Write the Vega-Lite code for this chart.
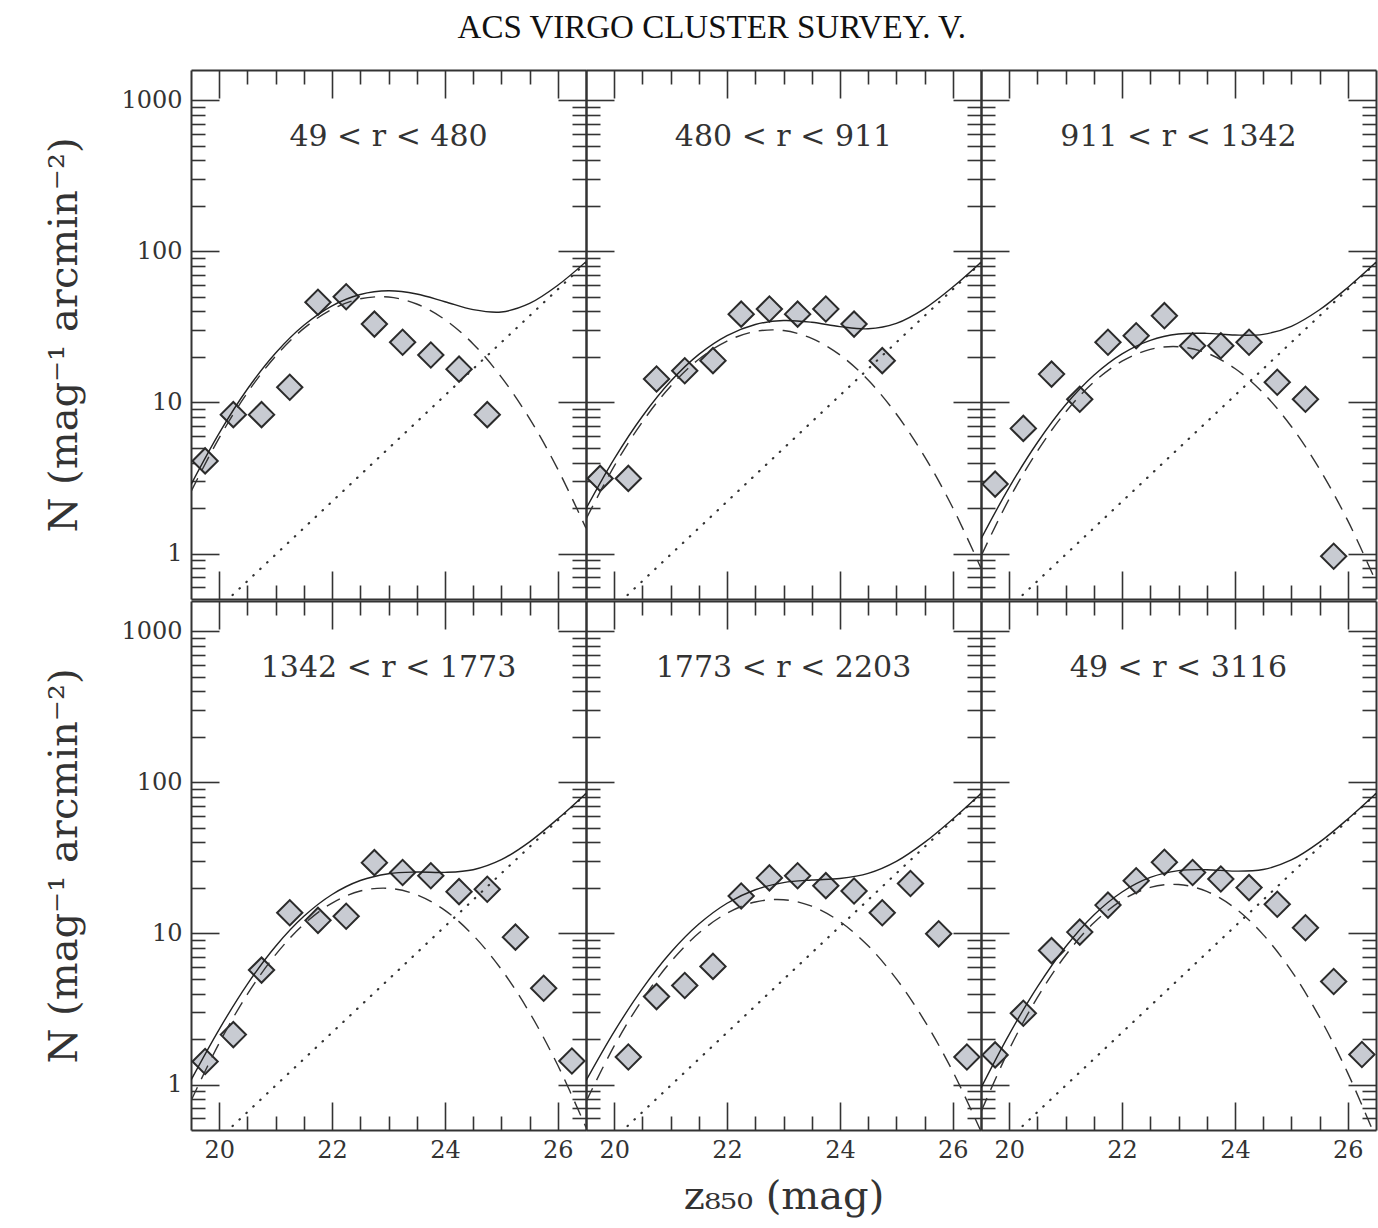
{
  "$schema": "https://vega.github.io/schema/vega-lite/v6.json",
  "background": "white",
  "padding": {"left": 44, "top": 12, "right": 2, "bottom": 4},
  "title": {"text": "ACS VIRGO CLUSTER SURVEY. V.", "font": "Liberation Serif", "fontSize": 33, "fontWeight": "normal", "color": "#111", "anchor": "middle", "frame": "bounds", "offset": 24},
  "datasets": {
    "bg": [{"m": 19.5, "n": 0.293}, {"m": 26.5, "n": 83.9}],
    "pts": [
      {"p": 1, "m": 19.75, "n": 4.1}, {"p": 1, "m": 20.25, "n": 8.3}, {"p": 1, "m": 20.75, "n": 8.3}, {"p": 1, "m": 21.25, "n": 12.6}, {"p": 1, "m": 21.75, "n": 46}, {"p": 1, "m": 22.25, "n": 50}, {"p": 1, "m": 22.75, "n": 33}, {"p": 1, "m": 23.25, "n": 25}, {"p": 1, "m": 23.75, "n": 20.6}, {"p": 1, "m": 24.25, "n": 16.6}, {"p": 1, "m": 24.75, "n": 8.3},
      {"p": 2, "m": 19.75, "n": 3.14}, {"p": 2, "m": 20.25, "n": 3.14}, {"p": 2, "m": 20.75, "n": 14.3}, {"p": 2, "m": 21.25, "n": 16.2}, {"p": 2, "m": 21.75, "n": 18.9}, {"p": 2, "m": 22.25, "n": 38.4}, {"p": 2, "m": 22.75, "n": 41.5}, {"p": 2, "m": 23.25, "n": 38.4}, {"p": 2, "m": 23.75, "n": 41.5}, {"p": 2, "m": 24.25, "n": 33.0}, {"p": 2, "m": 24.75, "n": 18.9},
      {"p": 3, "m": 19.75, "n": 2.88}, {"p": 3, "m": 20.25, "n": 6.73}, {"p": 3, "m": 20.75, "n": 15.4}, {"p": 3, "m": 21.25, "n": 10.5}, {"p": 3, "m": 21.75, "n": 25.0}, {"p": 3, "m": 22.25, "n": 27.6}, {"p": 3, "m": 22.75, "n": 37.5}, {"p": 3, "m": 23.25, "n": 23.7}, {"p": 3, "m": 23.75, "n": 23.7}, {"p": 3, "m": 24.25, "n": 25.0}, {"p": 3, "m": 24.75, "n": 13.6}, {"p": 3, "m": 25.25, "n": 10.5}, {"p": 3, "m": 25.75, "n": 0.96},
      {"p": 4, "m": 19.75, "n": 1.42}, {"p": 4, "m": 20.25, "n": 2.14}, {"p": 4, "m": 20.75, "n": 5.72}, {"p": 4, "m": 21.25, "n": 13.7}, {"p": 4, "m": 21.75, "n": 12.2}, {"p": 4, "m": 22.25, "n": 13.0}, {"p": 4, "m": 22.75, "n": 29.4}, {"p": 4, "m": 23.25, "n": 25.3}, {"p": 4, "m": 23.75, "n": 24.1}, {"p": 4, "m": 24.25, "n": 18.9}, {"p": 4, "m": 24.75, "n": 19.6}, {"p": 4, "m": 25.25, "n": 9.45}, {"p": 4, "m": 25.75, "n": 4.34}, {"p": 4, "m": 26.25, "n": 1.43},
      {"p": 5, "m": 20.25, "n": 1.52}, {"p": 5, "m": 20.75, "n": 3.82}, {"p": 5, "m": 21.25, "n": 4.52}, {"p": 5, "m": 21.75, "n": 6.05}, {"p": 5, "m": 22.25, "n": 17.7}, {"p": 5, "m": 22.75, "n": 23.3}, {"p": 5, "m": 23.25, "n": 24.1}, {"p": 5, "m": 23.75, "n": 20.7}, {"p": 5, "m": 24.25, "n": 19.1}, {"p": 5, "m": 24.75, "n": 13.7}, {"p": 5, "m": 25.25, "n": 21.4}, {"p": 5, "m": 25.75, "n": 9.94}, {"p": 5, "m": 26.25, "n": 1.52},
      {"p": 6, "m": 19.75, "n": 1.57}, {"p": 6, "m": 20.25, "n": 2.96}, {"p": 6, "m": 20.75, "n": 7.7}, {"p": 6, "m": 21.25, "n": 10.2}, {"p": 6, "m": 21.75, "n": 15.4}, {"p": 6, "m": 22.25, "n": 22.3}, {"p": 6, "m": 22.75, "n": 29.6}, {"p": 6, "m": 23.25, "n": 25.3}, {"p": 6, "m": 23.75, "n": 22.9}, {"p": 6, "m": 24.25, "n": 20.1}, {"p": 6, "m": 24.75, "n": 15.6}, {"p": 6, "m": 25.25, "n": 10.9}, {"p": 6, "m": 25.75, "n": 4.81}, {"p": 6, "m": 26.25, "n": 1.58}
    ],
    "curves": [
      {"p": 1, "m": 19.5, "g": 2.57, "t": 2.86}, {"p": 1, "m": 20.0, "g": 5.83, "t": 6.27}, {"p": 1, "m": 20.5, "g": 11.61, "t": 12.27}, {"p": 1, "m": 21.0, "g": 20.25, "t": 21.24}, {"p": 1, "m": 21.5, "g": 30.9, "t": 32.4}, {"p": 1, "m": 22.0, "g": 41.4, "t": 43.6}, {"p": 1, "m": 22.5, "g": 48.5, "t": 51.8}, {"p": 1, "m": 23.0, "g": 49.8, "t": 54.8}, {"p": 1, "m": 23.5, "g": 44.8, "t": 52.2}, {"p": 1, "m": 24.0, "g": 35.3, "t": 46.4}, {"p": 1, "m": 24.5, "g": 24.4, "t": 41.1}, {"p": 1, "m": 25.0, "g": 14.7, "t": 39.7}, {"p": 1, "m": 25.5, "g": 7.81, "t": 45.2}, {"p": 1, "m": 26.0, "g": 3.62, "t": 59.6}, {"p": 1, "m": 26.5, "g": 1.47, "t": 85.4},
      {"p": 2, "m": 19.5, "g": 1.69, "t": 1.98}, {"p": 2, "m": 20.0, "g": 3.79, "t": 4.23}, {"p": 2, "m": 20.5, "g": 7.44, "t": 8.10}, {"p": 2, "m": 21.0, "g": 12.81, "t": 13.80}, {"p": 2, "m": 21.5, "g": 19.31, "t": 20.79}, {"p": 2, "m": 22.0, "g": 25.49, "t": 27.70}, {"p": 2, "m": 22.5, "g": 29.49, "t": 32.80}, {"p": 2, "m": 23.0, "g": 29.89, "t": 34.85}, {"p": 2, "m": 23.5, "g": 26.52, "t": 33.95}, {"p": 2, "m": 24.0, "g": 20.63, "t": 31.76}, {"p": 2, "m": 24.5, "g": 14.05, "t": 30.72}, {"p": 2, "m": 25.0, "g": 8.38, "t": 33.35}, {"p": 2, "m": 25.5, "g": 4.38, "t": 41.78}, {"p": 2, "m": 26.0, "g": 2.01, "t": 58.0}, {"p": 2, "m": 26.5, "g": 0.80, "t": 84.7},
      {"p": 3, "m": 19.5, "g": 0.96, "t": 1.25}, {"p": 3, "m": 20.0, "g": 2.30, "t": 2.74}, {"p": 3, "m": 20.5, "g": 4.77, "t": 5.43}, {"p": 3, "m": 21.0, "g": 8.65, "t": 9.64}, {"p": 3, "m": 21.5, "g": 13.64, "t": 15.12}, {"p": 3, "m": 22.0, "g": 18.74, "t": 20.95}, {"p": 3, "m": 22.5, "g": 22.43, "t": 25.74}, {"p": 3, "m": 23.0, "g": 23.38, "t": 28.34}, {"p": 3, "m": 23.5, "g": 21.22, "t": 28.65}, {"p": 3, "m": 24.0, "g": 16.78, "t": 27.91}, {"p": 3, "m": 24.5, "g": 11.56, "t": 28.23}, {"p": 3, "m": 25.0, "g": 6.93, "t": 31.90}, {"p": 3, "m": 25.5, "g": 3.62, "t": 41.02}, {"p": 3, "m": 26.0, "g": 1.65, "t": 57.65}, {"p": 3, "m": 26.5, "g": 0.65, "t": 84.55},
      {"p": 4, "m": 19.5, "g": 0.78, "t": 1.07}, {"p": 4, "m": 20.0, "g": 1.88, "t": 2.32}, {"p": 4, "m": 20.5, "g": 3.96, "t": 4.62}, {"p": 4, "m": 21.0, "g": 7.24, "t": 8.23}, {"p": 4, "m": 21.5, "g": 11.50, "t": 12.98}, {"p": 4, "m": 22.0, "g": 15.89, "t": 18.10}, {"p": 4, "m": 22.5, "g": 19.08, "t": 22.39}, {"p": 4, "m": 23.0, "g": 19.89, "t": 24.85}, {"p": 4, "m": 23.5, "g": 18.04, "t": 25.47}, {"p": 4, "m": 24.0, "g": 14.21, "t": 25.34}, {"p": 4, "m": 24.5, "g": 9.72, "t": 26.39}, {"p": 4, "m": 25.0, "g": 5.78, "t": 30.75}, {"p": 4, "m": 25.5, "g": 2.99, "t": 40.39}, {"p": 4, "m": 26.0, "g": 1.34, "t": 57.34}, {"p": 4, "m": 26.5, "g": 0.52, "t": 84.42},
      {"p": 5, "m": 19.5, "g": 0.77, "t": 1.06}, {"p": 5, "m": 20.0, "g": 1.80, "t": 2.24}, {"p": 5, "m": 20.5, "g": 3.65, "t": 4.31}, {"p": 5, "m": 21.0, "g": 6.48, "t": 7.47}, {"p": 5, "m": 21.5, "g": 10.05, "t": 11.53}, {"p": 5, "m": 22.0, "g": 13.63, "t": 15.84}, {"p": 5, "m": 22.5, "g": 16.15, "t": 19.46}, {"p": 5, "m": 23.0, "g": 16.72, "t": 21.68}, {"p": 5, "m": 23.5, "g": 15.14, "t": 22.57}, {"p": 5, "m": 24.0, "g": 11.97, "t": 23.10}, {"p": 5, "m": 24.5, "g": 8.28, "t": 24.95}, {"p": 5, "m": 25.0, "g": 5.00, "t": 29.97}, {"p": 5, "m": 25.5, "g": 2.64, "t": 40.04}, {"p": 5, "m": 26.0, "g": 1.22, "t": 57.22}, {"p": 5, "m": 26.5, "g": 0.49, "t": 84.39},
      {"p": 6, "m": 19.5, "g": 0.66, "t": 0.95}, {"p": 6, "m": 20.0, "g": 1.71, "t": 2.15}, {"p": 6, "m": 20.5, "g": 3.77, "t": 4.43}, {"p": 6, "m": 21.0, "g": 7.17, "t": 8.16}, {"p": 6, "m": 21.5, "g": 11.76, "t": 13.24}, {"p": 6, "m": 22.0, "g": 16.59, "t": 18.80}, {"p": 6, "m": 22.5, "g": 20.15, "t": 23.46}, {"p": 6, "m": 23.0, "g": 21.07, "t": 26.03}, {"p": 6, "m": 23.5, "g": 18.98, "t": 26.41}, {"p": 6, "m": 24.0, "g": 14.72, "t": 25.85}, {"p": 6, "m": 24.5, "g": 9.82, "t": 26.49}, {"p": 6, "m": 25.0, "g": 5.65, "t": 30.62}, {"p": 6, "m": 25.5, "g": 2.79, "t": 40.19}, {"p": 6, "m": 26.0, "g": 1.19, "t": 57.19}, {"p": 6, "m": 26.5, "g": 0.44, "t": 84.34}
    ]
  },
  "vconcat": [
    {
      "spacing": 0, "bounds": "flush",
      "hconcat": [
        {
          "width": 395, "height": 529,
          "resolve": {"axis": {"x": "independent", "y": "independent"}},
          "layer": [
            {"data": {"name": "pts"}, "transform": [{"filter": "datum.p === 1"}],
             "mark": {"type": "point", "shape": "diamond", "size": 640, "filled": true, "fill": "#c8cbd2", "stroke": "#2b2b2b", "strokeWidth": 2, "opacity": 1},
             "encoding": {
               "x": {"field": "m", "type": "quantitative", "scale": {"domain": [19.5, 26.5], "nice": false, "zero": false},
                     "axis": {"orient": "bottom", "values": [20,20.5,21,21.5,22,22.5,23,23.5,24,24.5,25,25.5,26], "labels": false, "title": null, "encoding": {"ticks": {"y2": {"condition": {"test": "datum.value % 2 === 0", "value": -28}, "value": -14}}}}},
               "y": {"field": "n", "type": "quantitative", "scale": {"type": "log", "domain": [0.5, 1585], "nice": false},
                     "axis": {"orient": "left", "values": [0.6,0.7,0.8,0.9,1,2,3,4,5,6,7,8,9,10,20,30,40,50,60,70,80,90,100,200,300,400,500,600,700,800,900,1000], "labels": true, "labelExpr": "indexof([1,10,100,1000], datum.value) >= 0 ? '' + datum.value : ''", "title": "N (mag⁻¹ arcmin⁻²)", "encoding": {"ticks": {"x2": {"condition": {"test": "indexof([1,10,100,1000], datum.value) >= 0", "value": 28}, "value": 14}}}}}
             }},
            {"data": {"name": "bg"},
             "mark": {"type": "line", "clip": true, "color": "#333", "strokeWidth": 2.2, "strokeDash": [0.5, 9], "strokeCap": "round"},
             "encoding": {
               "x": {"field": "m", "type": "quantitative", "scale": {"domain": [19.5, 26.5], "nice": false, "zero": false}, "axis": null},
               "y": {"field": "n", "type": "quantitative", "scale": {"type": "log", "domain": [0.5, 1585], "nice": false}, "axis": null}
             }},
            {"data": {"name": "curves"}, "transform": [{"filter": "datum.p === 1"}],
             "mark": {"type": "line", "clip": true, "interpolate": "catmull-rom", "color": "#333", "strokeWidth": 1.4, "strokeDash": [15, 9]},
             "encoding": {
               "x": {"field": "m", "type": "quantitative", "scale": {"domain": [19.5, 26.5], "nice": false, "zero": false}, "axis": null},
               "y": {"field": "g", "type": "quantitative", "scale": {"type": "log", "domain": [0.5, 1585], "nice": false}, "axis": null}
             }},
            {"data": {"name": "curves"}, "transform": [{"filter": "datum.p === 1"}],
             "mark": {"type": "line", "clip": true, "interpolate": "catmull-rom", "color": "#222", "strokeWidth": 1.4},
             "encoding": {
               "x": {"field": "m", "type": "quantitative", "scale": {"domain": [19.5, 26.5], "nice": false, "zero": false},
                     "axis": {"orient": "top", "values": [20,20.5,21,21.5,22,22.5,23,23.5,24,24.5,25,25.5,26], "labels": false, "title": null, "encoding": {"ticks": {"y2": {"condition": {"test": "datum.value % 2 === 0", "value": 28}, "value": 14}}}}},
               "y": {"field": "t", "type": "quantitative", "scale": {"type": "log", "domain": [0.5, 1585], "nice": false},
                     "axis": {"orient": "right", "values": [0.6,0.7,0.8,0.9,1,2,3,4,5,6,7,8,9,10,20,30,40,50,60,70,80,90,100,200,300,400,500,600,700,800,900,1000], "labels": false, "title": null, "encoding": {"ticks": {"x2": {"condition": {"test": "indexof([1,10,100,1000], datum.value) >= 0", "value": -28}, "value": -14}}}}}
             }},
            {"data": {"values": [{"label": "49 < r < 480"}]},
             "mark": {"type": "text", "font": "DejaVu Serif", "fontSize": 30, "color": "#333"},
             "encoding": {
               "x": {"datum": 23, "type": "quantitative", "scale": {"domain": [19.5, 26.5], "nice": false, "zero": false}, "axis": null},
               "y": {"datum": 570, "type": "quantitative", "scale": {"type": "log", "domain": [0.5, 1585], "nice": false}, "axis": null},
               "text": {"field": "label"}
             }}
          ]
        },
        {
          "width": 395, "height": 529,
          "resolve": {"axis": {"x": "independent", "y": "independent"}},
          "layer": [
            {"data": {"name": "pts"}, "transform": [{"filter": "datum.p === 2"}],
             "mark": {"type": "point", "shape": "diamond", "size": 640, "filled": true, "fill": "#c8cbd2", "stroke": "#2b2b2b", "strokeWidth": 2, "opacity": 1},
             "encoding": {
               "x": {"field": "m", "type": "quantitative", "scale": {"domain": [19.5, 26.5], "nice": false, "zero": false},
                     "axis": {"orient": "bottom", "values": [20,20.5,21,21.5,22,22.5,23,23.5,24,24.5,25,25.5,26], "labels": false, "title": null, "encoding": {"ticks": {"y2": {"condition": {"test": "datum.value % 2 === 0", "value": -28}, "value": -14}}}}},
               "y": {"field": "n", "type": "quantitative", "scale": {"type": "log", "domain": [0.5, 1585], "nice": false},
                     "axis": {"orient": "left", "values": [0.6,0.7,0.8,0.9,1,2,3,4,5,6,7,8,9,10,20,30,40,50,60,70,80,90,100,200,300,400,500,600,700,800,900,1000], "labels": false, "title": null, "encoding": {"ticks": {"x2": {"condition": {"test": "indexof([1,10,100,1000], datum.value) >= 0", "value": 28}, "value": 14}}}}}
             }},
            {"data": {"name": "bg"},
             "mark": {"type": "line", "clip": true, "color": "#333", "strokeWidth": 2.2, "strokeDash": [0.5, 9], "strokeCap": "round"},
             "encoding": {
               "x": {"field": "m", "type": "quantitative", "scale": {"domain": [19.5, 26.5], "nice": false, "zero": false}, "axis": null},
               "y": {"field": "n", "type": "quantitative", "scale": {"type": "log", "domain": [0.5, 1585], "nice": false}, "axis": null}
             }},
            {"data": {"name": "curves"}, "transform": [{"filter": "datum.p === 2"}],
             "mark": {"type": "line", "clip": true, "interpolate": "catmull-rom", "color": "#333", "strokeWidth": 1.4, "strokeDash": [15, 9]},
             "encoding": {
               "x": {"field": "m", "type": "quantitative", "scale": {"domain": [19.5, 26.5], "nice": false, "zero": false}, "axis": null},
               "y": {"field": "g", "type": "quantitative", "scale": {"type": "log", "domain": [0.5, 1585], "nice": false}, "axis": null}
             }},
            {"data": {"name": "curves"}, "transform": [{"filter": "datum.p === 2"}],
             "mark": {"type": "line", "clip": true, "interpolate": "catmull-rom", "color": "#222", "strokeWidth": 1.4},
             "encoding": {
               "x": {"field": "m", "type": "quantitative", "scale": {"domain": [19.5, 26.5], "nice": false, "zero": false},
                     "axis": {"orient": "top", "values": [20,20.5,21,21.5,22,22.5,23,23.5,24,24.5,25,25.5,26], "labels": false, "title": null, "encoding": {"ticks": {"y2": {"condition": {"test": "datum.value % 2 === 0", "value": 28}, "value": 14}}}}},
               "y": {"field": "t", "type": "quantitative", "scale": {"type": "log", "domain": [0.5, 1585], "nice": false},
                     "axis": {"orient": "right", "values": [0.6,0.7,0.8,0.9,1,2,3,4,5,6,7,8,9,10,20,30,40,50,60,70,80,90,100,200,300,400,500,600,700,800,900,1000], "labels": false, "title": null, "encoding": {"ticks": {"x2": {"condition": {"test": "indexof([1,10,100,1000], datum.value) >= 0", "value": -28}, "value": -14}}}}}
             }},
            {"data": {"values": [{"label": "480 < r < 911"}]},
             "mark": {"type": "text", "font": "DejaVu Serif", "fontSize": 30, "color": "#333"},
             "encoding": {
               "x": {"datum": 23, "type": "quantitative", "scale": {"domain": [19.5, 26.5], "nice": false, "zero": false}, "axis": null},
               "y": {"datum": 570, "type": "quantitative", "scale": {"type": "log", "domain": [0.5, 1585], "nice": false}, "axis": null},
               "text": {"field": "label"}
             }}
          ]
        },
        {
          "width": 395, "height": 529,
          "resolve": {"axis": {"x": "independent", "y": "independent"}},
          "layer": [
            {"data": {"name": "pts"}, "transform": [{"filter": "datum.p === 3"}],
             "mark": {"type": "point", "shape": "diamond", "size": 640, "filled": true, "fill": "#c8cbd2", "stroke": "#2b2b2b", "strokeWidth": 2, "opacity": 1},
             "encoding": {
               "x": {"field": "m", "type": "quantitative", "scale": {"domain": [19.5, 26.5], "nice": false, "zero": false},
                     "axis": {"orient": "bottom", "values": [20,20.5,21,21.5,22,22.5,23,23.5,24,24.5,25,25.5,26], "labels": false, "title": null, "encoding": {"ticks": {"y2": {"condition": {"test": "datum.value % 2 === 0", "value": -28}, "value": -14}}}}},
               "y": {"field": "n", "type": "quantitative", "scale": {"type": "log", "domain": [0.5, 1585], "nice": false},
                     "axis": {"orient": "left", "values": [0.6,0.7,0.8,0.9,1,2,3,4,5,6,7,8,9,10,20,30,40,50,60,70,80,90,100,200,300,400,500,600,700,800,900,1000], "labels": false, "title": null, "encoding": {"ticks": {"x2": {"condition": {"test": "indexof([1,10,100,1000], datum.value) >= 0", "value": 28}, "value": 14}}}}}
             }},
            {"data": {"name": "bg"},
             "mark": {"type": "line", "clip": true, "color": "#333", "strokeWidth": 2.2, "strokeDash": [0.5, 9], "strokeCap": "round"},
             "encoding": {
               "x": {"field": "m", "type": "quantitative", "scale": {"domain": [19.5, 26.5], "nice": false, "zero": false}, "axis": null},
               "y": {"field": "n", "type": "quantitative", "scale": {"type": "log", "domain": [0.5, 1585], "nice": false}, "axis": null}
             }},
            {"data": {"name": "curves"}, "transform": [{"filter": "datum.p === 3"}],
             "mark": {"type": "line", "clip": true, "interpolate": "catmull-rom", "color": "#333", "strokeWidth": 1.4, "strokeDash": [15, 9]},
             "encoding": {
               "x": {"field": "m", "type": "quantitative", "scale": {"domain": [19.5, 26.5], "nice": false, "zero": false}, "axis": null},
               "y": {"field": "g", "type": "quantitative", "scale": {"type": "log", "domain": [0.5, 1585], "nice": false}, "axis": null}
             }},
            {"data": {"name": "curves"}, "transform": [{"filter": "datum.p === 3"}],
             "mark": {"type": "line", "clip": true, "interpolate": "catmull-rom", "color": "#222", "strokeWidth": 1.4},
             "encoding": {
               "x": {"field": "m", "type": "quantitative", "scale": {"domain": [19.5, 26.5], "nice": false, "zero": false},
                     "axis": {"orient": "top", "values": [20,20.5,21,21.5,22,22.5,23,23.5,24,24.5,25,25.5,26], "labels": false, "title": null, "encoding": {"ticks": {"y2": {"condition": {"test": "datum.value % 2 === 0", "value": 28}, "value": 14}}}}},
               "y": {"field": "t", "type": "quantitative", "scale": {"type": "log", "domain": [0.5, 1585], "nice": false},
                     "axis": {"orient": "right", "values": [0.6,0.7,0.8,0.9,1,2,3,4,5,6,7,8,9,10,20,30,40,50,60,70,80,90,100,200,300,400,500,600,700,800,900,1000], "labels": false, "title": null, "encoding": {"ticks": {"x2": {"condition": {"test": "indexof([1,10,100,1000], datum.value) >= 0", "value": -28}, "value": -14}}}}}
             }},
            {"data": {"values": [{"label": "911 < r < 1342"}]},
             "mark": {"type": "text", "font": "DejaVu Serif", "fontSize": 30, "color": "#333"},
             "encoding": {
               "x": {"datum": 23, "type": "quantitative", "scale": {"domain": [19.5, 26.5], "nice": false, "zero": false}, "axis": null},
               "y": {"datum": 570, "type": "quantitative", "scale": {"type": "log", "domain": [0.5, 1585], "nice": false}, "axis": null},
               "text": {"field": "label"}
             }}
          ]
        }
      ]
    },
    {
      "spacing": 0, "bounds": "flush",
      "hconcat": [
        {
          "width": 395, "height": 529,
          "resolve": {"axis": {"x": "independent", "y": "independent"}},
          "layer": [
            {"data": {"name": "pts"}, "transform": [{"filter": "datum.p === 4"}],
             "mark": {"type": "point", "shape": "diamond", "size": 640, "filled": true, "fill": "#c8cbd2", "stroke": "#2b2b2b", "strokeWidth": 2, "opacity": 1},
             "encoding": {
               "x": {"field": "m", "type": "quantitative", "scale": {"domain": [19.5, 26.5], "nice": false, "zero": false},
                     "axis": {"orient": "bottom", "values": [20,20.5,21,21.5,22,22.5,23,23.5,24,24.5,25,25.5,26], "labels": true, "labelExpr": "datum.value % 2 === 0 ? '' + datum.value : ''", "title": null, "encoding": {"ticks": {"y2": {"condition": {"test": "datum.value % 2 === 0", "value": -28}, "value": -14}}}}},
               "y": {"field": "n", "type": "quantitative", "scale": {"type": "log", "domain": [0.5, 1585], "nice": false},
                     "axis": {"orient": "left", "values": [0.6,0.7,0.8,0.9,1,2,3,4,5,6,7,8,9,10,20,30,40,50,60,70,80,90,100,200,300,400,500,600,700,800,900,1000], "labels": true, "labelExpr": "indexof([1,10,100,1000], datum.value) >= 0 ? '' + datum.value : ''", "title": "N (mag⁻¹ arcmin⁻²)", "encoding": {"ticks": {"x2": {"condition": {"test": "indexof([1,10,100,1000], datum.value) >= 0", "value": 28}, "value": 14}}}}}
             }},
            {"data": {"name": "bg"},
             "mark": {"type": "line", "clip": true, "color": "#333", "strokeWidth": 2.2, "strokeDash": [0.5, 9], "strokeCap": "round"},
             "encoding": {
               "x": {"field": "m", "type": "quantitative", "scale": {"domain": [19.5, 26.5], "nice": false, "zero": false}, "axis": null},
               "y": {"field": "n", "type": "quantitative", "scale": {"type": "log", "domain": [0.5, 1585], "nice": false}, "axis": null}
             }},
            {"data": {"name": "curves"}, "transform": [{"filter": "datum.p === 4"}],
             "mark": {"type": "line", "clip": true, "interpolate": "catmull-rom", "color": "#333", "strokeWidth": 1.4, "strokeDash": [15, 9]},
             "encoding": {
               "x": {"field": "m", "type": "quantitative", "scale": {"domain": [19.5, 26.5], "nice": false, "zero": false}, "axis": null},
               "y": {"field": "g", "type": "quantitative", "scale": {"type": "log", "domain": [0.5, 1585], "nice": false}, "axis": null}
             }},
            {"data": {"name": "curves"}, "transform": [{"filter": "datum.p === 4"}],
             "mark": {"type": "line", "clip": true, "interpolate": "catmull-rom", "color": "#222", "strokeWidth": 1.4},
             "encoding": {
               "x": {"field": "m", "type": "quantitative", "scale": {"domain": [19.5, 26.5], "nice": false, "zero": false},
                     "axis": {"orient": "top", "values": [20,20.5,21,21.5,22,22.5,23,23.5,24,24.5,25,25.5,26], "labels": false, "title": null, "encoding": {"ticks": {"y2": {"condition": {"test": "datum.value % 2 === 0", "value": 28}, "value": 14}}}}},
               "y": {"field": "t", "type": "quantitative", "scale": {"type": "log", "domain": [0.5, 1585], "nice": false},
                     "axis": {"orient": "right", "values": [0.6,0.7,0.8,0.9,1,2,3,4,5,6,7,8,9,10,20,30,40,50,60,70,80,90,100,200,300,400,500,600,700,800,900,1000], "labels": false, "title": null, "encoding": {"ticks": {"x2": {"condition": {"test": "indexof([1,10,100,1000], datum.value) >= 0", "value": -28}, "value": -14}}}}}
             }},
            {"data": {"values": [{"label": "1342 < r < 1773"}]},
             "mark": {"type": "text", "font": "DejaVu Serif", "fontSize": 30, "color": "#333"},
             "encoding": {
               "x": {"datum": 23, "type": "quantitative", "scale": {"domain": [19.5, 26.5], "nice": false, "zero": false}, "axis": null},
               "y": {"datum": 570, "type": "quantitative", "scale": {"type": "log", "domain": [0.5, 1585], "nice": false}, "axis": null},
               "text": {"field": "label"}
             }}
          ]
        },
        {
          "width": 395, "height": 529,
          "resolve": {"axis": {"x": "independent", "y": "independent"}},
          "layer": [
            {"data": {"name": "pts"}, "transform": [{"filter": "datum.p === 5"}],
             "mark": {"type": "point", "shape": "diamond", "size": 640, "filled": true, "fill": "#c8cbd2", "stroke": "#2b2b2b", "strokeWidth": 2, "opacity": 1},
             "encoding": {
               "x": {"field": "m", "type": "quantitative", "scale": {"domain": [19.5, 26.5], "nice": false, "zero": false},
                     "axis": {"orient": "bottom", "values": [20,20.5,21,21.5,22,22.5,23,23.5,24,24.5,25,25.5,26], "labels": true, "labelExpr": "datum.value % 2 === 0 ? '' + datum.value : ''", "title": "z₈₅₀  (mag)", "encoding": {"ticks": {"y2": {"condition": {"test": "datum.value % 2 === 0", "value": -28}, "value": -14}}}}},
               "y": {"field": "n", "type": "quantitative", "scale": {"type": "log", "domain": [0.5, 1585], "nice": false},
                     "axis": {"orient": "left", "values": [0.6,0.7,0.8,0.9,1,2,3,4,5,6,7,8,9,10,20,30,40,50,60,70,80,90,100,200,300,400,500,600,700,800,900,1000], "labels": false, "title": null, "encoding": {"ticks": {"x2": {"condition": {"test": "indexof([1,10,100,1000], datum.value) >= 0", "value": 28}, "value": 14}}}}}
             }},
            {"data": {"name": "bg"},
             "mark": {"type": "line", "clip": true, "color": "#333", "strokeWidth": 2.2, "strokeDash": [0.5, 9], "strokeCap": "round"},
             "encoding": {
               "x": {"field": "m", "type": "quantitative", "scale": {"domain": [19.5, 26.5], "nice": false, "zero": false}, "axis": null},
               "y": {"field": "n", "type": "quantitative", "scale": {"type": "log", "domain": [0.5, 1585], "nice": false}, "axis": null}
             }},
            {"data": {"name": "curves"}, "transform": [{"filter": "datum.p === 5"}],
             "mark": {"type": "line", "clip": true, "interpolate": "catmull-rom", "color": "#333", "strokeWidth": 1.4, "strokeDash": [15, 9]},
             "encoding": {
               "x": {"field": "m", "type": "quantitative", "scale": {"domain": [19.5, 26.5], "nice": false, "zero": false}, "axis": null},
               "y": {"field": "g", "type": "quantitative", "scale": {"type": "log", "domain": [0.5, 1585], "nice": false}, "axis": null}
             }},
            {"data": {"name": "curves"}, "transform": [{"filter": "datum.p === 5"}],
             "mark": {"type": "line", "clip": true, "interpolate": "catmull-rom", "color": "#222", "strokeWidth": 1.4},
             "encoding": {
               "x": {"field": "m", "type": "quantitative", "scale": {"domain": [19.5, 26.5], "nice": false, "zero": false},
                     "axis": {"orient": "top", "values": [20,20.5,21,21.5,22,22.5,23,23.5,24,24.5,25,25.5,26], "labels": false, "title": null, "encoding": {"ticks": {"y2": {"condition": {"test": "datum.value % 2 === 0", "value": 28}, "value": 14}}}}},
               "y": {"field": "t", "type": "quantitative", "scale": {"type": "log", "domain": [0.5, 1585], "nice": false},
                     "axis": {"orient": "right", "values": [0.6,0.7,0.8,0.9,1,2,3,4,5,6,7,8,9,10,20,30,40,50,60,70,80,90,100,200,300,400,500,600,700,800,900,1000], "labels": false, "title": null, "encoding": {"ticks": {"x2": {"condition": {"test": "indexof([1,10,100,1000], datum.value) >= 0", "value": -28}, "value": -14}}}}}
             }},
            {"data": {"values": [{"label": "1773 < r < 2203"}]},
             "mark": {"type": "text", "font": "DejaVu Serif", "fontSize": 30, "color": "#333"},
             "encoding": {
               "x": {"datum": 23, "type": "quantitative", "scale": {"domain": [19.5, 26.5], "nice": false, "zero": false}, "axis": null},
               "y": {"datum": 570, "type": "quantitative", "scale": {"type": "log", "domain": [0.5, 1585], "nice": false}, "axis": null},
               "text": {"field": "label"}
             }}
          ]
        },
        {
          "width": 395, "height": 529,
          "resolve": {"axis": {"x": "independent", "y": "independent"}},
          "layer": [
            {"data": {"name": "pts"}, "transform": [{"filter": "datum.p === 6"}],
             "mark": {"type": "point", "shape": "diamond", "size": 640, "filled": true, "fill": "#c8cbd2", "stroke": "#2b2b2b", "strokeWidth": 2, "opacity": 1},
             "encoding": {
               "x": {"field": "m", "type": "quantitative", "scale": {"domain": [19.5, 26.5], "nice": false, "zero": false},
                     "axis": {"orient": "bottom", "values": [20,20.5,21,21.5,22,22.5,23,23.5,24,24.5,25,25.5,26], "labels": true, "labelExpr": "datum.value % 2 === 0 ? '' + datum.value : ''", "title": null, "encoding": {"ticks": {"y2": {"condition": {"test": "datum.value % 2 === 0", "value": -28}, "value": -14}}}}},
               "y": {"field": "n", "type": "quantitative", "scale": {"type": "log", "domain": [0.5, 1585], "nice": false},
                     "axis": {"orient": "left", "values": [0.6,0.7,0.8,0.9,1,2,3,4,5,6,7,8,9,10,20,30,40,50,60,70,80,90,100,200,300,400,500,600,700,800,900,1000], "labels": false, "title": null, "encoding": {"ticks": {"x2": {"condition": {"test": "indexof([1,10,100,1000], datum.value) >= 0", "value": 28}, "value": 14}}}}}
             }},
            {"data": {"name": "bg"},
             "mark": {"type": "line", "clip": true, "color": "#333", "strokeWidth": 2.2, "strokeDash": [0.5, 9], "strokeCap": "round"},
             "encoding": {
               "x": {"field": "m", "type": "quantitative", "scale": {"domain": [19.5, 26.5], "nice": false, "zero": false}, "axis": null},
               "y": {"field": "n", "type": "quantitative", "scale": {"type": "log", "domain": [0.5, 1585], "nice": false}, "axis": null}
             }},
            {"data": {"name": "curves"}, "transform": [{"filter": "datum.p === 6"}],
             "mark": {"type": "line", "clip": true, "interpolate": "catmull-rom", "color": "#333", "strokeWidth": 1.4, "strokeDash": [15, 9]},
             "encoding": {
               "x": {"field": "m", "type": "quantitative", "scale": {"domain": [19.5, 26.5], "nice": false, "zero": false}, "axis": null},
               "y": {"field": "g", "type": "quantitative", "scale": {"type": "log", "domain": [0.5, 1585], "nice": false}, "axis": null}
             }},
            {"data": {"name": "curves"}, "transform": [{"filter": "datum.p === 6"}],
             "mark": {"type": "line", "clip": true, "interpolate": "catmull-rom", "color": "#222", "strokeWidth": 1.4},
             "encoding": {
               "x": {"field": "m", "type": "quantitative", "scale": {"domain": [19.5, 26.5], "nice": false, "zero": false},
                     "axis": {"orient": "top", "values": [20,20.5,21,21.5,22,22.5,23,23.5,24,24.5,25,25.5,26], "labels": false, "title": null, "encoding": {"ticks": {"y2": {"condition": {"test": "datum.value % 2 === 0", "value": 28}, "value": 14}}}}},
               "y": {"field": "t", "type": "quantitative", "scale": {"type": "log", "domain": [0.5, 1585], "nice": false},
                     "axis": {"orient": "right", "values": [0.6,0.7,0.8,0.9,1,2,3,4,5,6,7,8,9,10,20,30,40,50,60,70,80,90,100,200,300,400,500,600,700,800,900,1000], "labels": false, "title": null, "encoding": {"ticks": {"x2": {"condition": {"test": "indexof([1,10,100,1000], datum.value) >= 0", "value": -28}, "value": -14}}}}}
             }},
            {"data": {"values": [{"label": "49 < r < 3116"}]},
             "mark": {"type": "text", "font": "DejaVu Serif", "fontSize": 30, "color": "#333"},
             "encoding": {
               "x": {"datum": 23, "type": "quantitative", "scale": {"domain": [19.5, 26.5], "nice": false, "zero": false}, "axis": null},
               "y": {"datum": 570, "type": "quantitative", "scale": {"type": "log", "domain": [0.5, 1585], "nice": false}, "axis": null},
               "text": {"field": "label"}
             }}
          ]
        }
      ]
    }
  ],
  "spacing": 0,
  "config": {
    "view": {"stroke": null},
    "axis": {"tickSize": 0, "tickColor": "#333", "tickWidth": 1.6, "domainColor": "#333", "domainWidth": 2, "labelFont": "DejaVu Serif", "labelFontSize": 24, "labelColor": "#333", "labelOverlap": false, "labelFlush": false, "grid": false, "titleFont": "DejaVu Serif", "titleFontSize": 40, "titleFontWeight": "normal", "titleColor": "#333"},
    "axisX": {"labelPadding": 8, "titlePadding": 14},
    "axisY": {"labelPadding": 9, "titlePadding": 36}
  }
}
